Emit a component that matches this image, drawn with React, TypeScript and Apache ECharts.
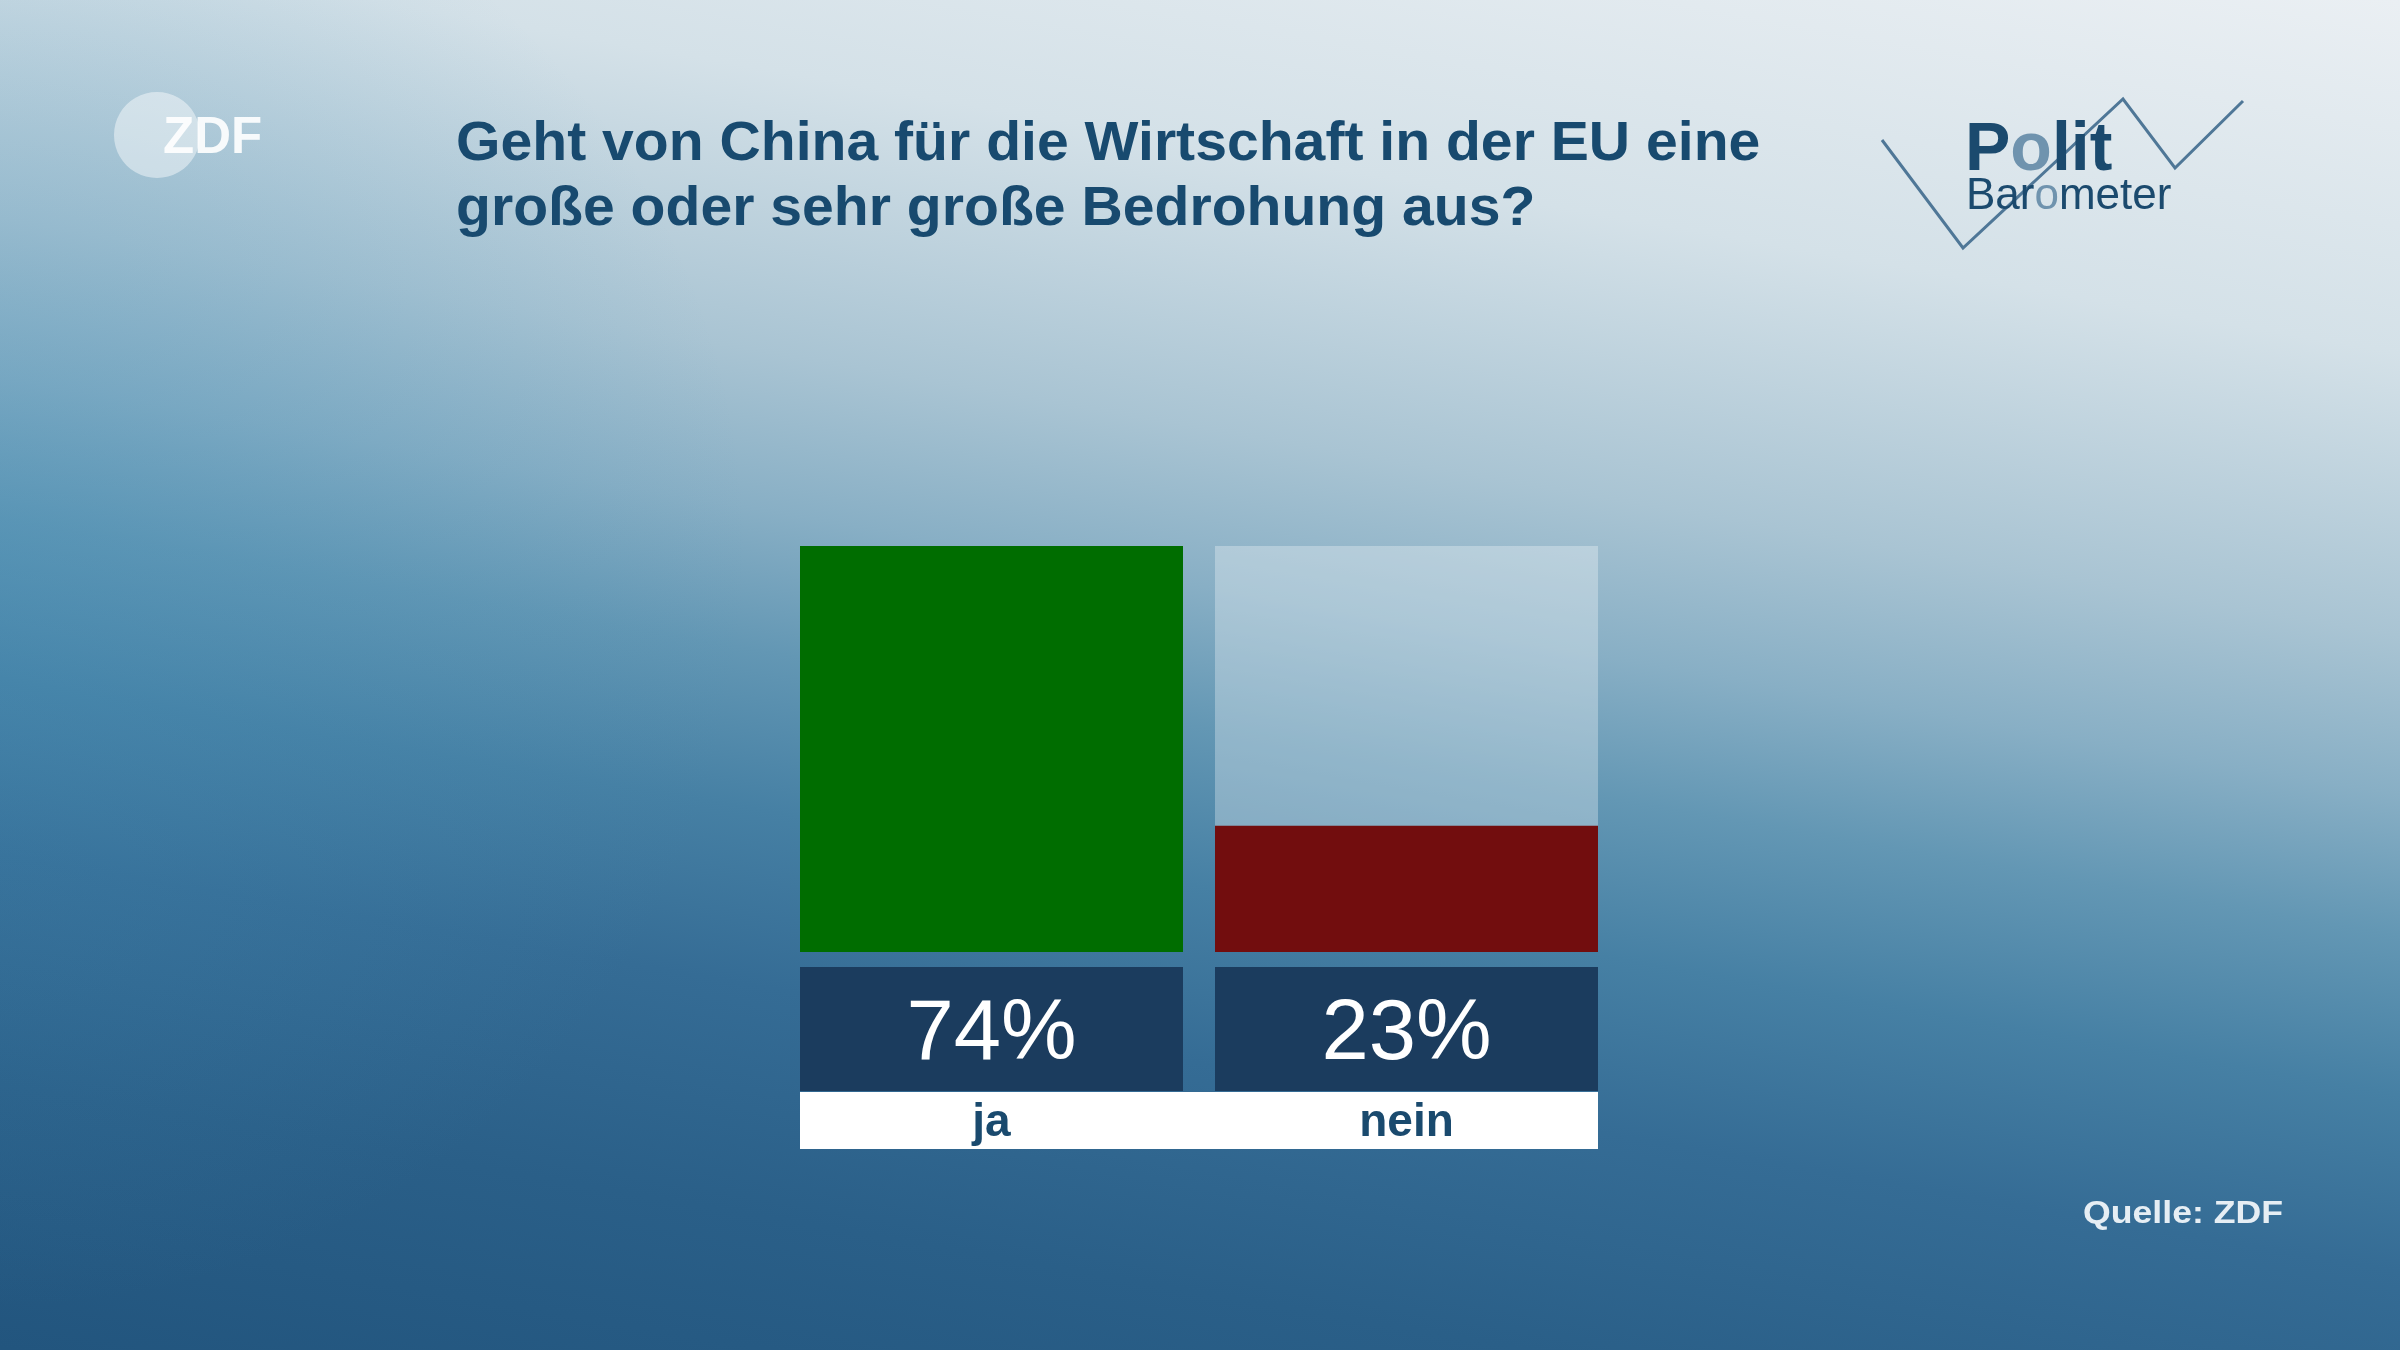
import React, { useEffect, useRef } from 'react';
import * as echarts from 'echarts';

const categories = ['ja', 'nein'];
const values = [74, 23];
const barColors = ['#006d00', '#720d0e'];
const titleLines = [
  'Geht von China für die Wirtschaft in der EU eine',
  'große oder sehr große Bedrohung aus?',
];
const sourceText = 'Quelle: ZDF';

const FONT = '"Liberation Sans", Arial, sans-serif';

function measure(text: string, font: string): number {
  const ctx = document.createElement('canvas').getContext('2d') as CanvasRenderingContext2D;
  ctx.font = font;
  return ctx.measureText(text).width || 1;
}

export default function App() {
  const ref = useRef<HTMLDivElement>(null);

  useEffect(() => {
    const chart = echarts.init(ref.current as HTMLDivElement, null, { renderer: 'svg' });
    const titleScale = 1304 / measure(titleLines[0], `bold 55px ${FONT}`);
    const srcScale = 200 / measure(sourceText, `bold 31px ${FONT}`);

    const bg = {
      type: 'linear',
      x: 2400,
      y: 0,
      x2: 2102,
      y2: 1714,
      global: true,
      colorStops: [
        { offset: 0, color: '#eaeff3' },
        { offset: 0.2, color: '#d4e1e8' },
        { offset: 0.36, color: '#a9c4d3' },
        { offset: 0.45, color: '#88afc5' },
        { offset: 0.53, color: '#6397b4' },
        { offset: 0.62, color: '#4680a4' },
        { offset: 0.72, color: '#356c95' },
        { offset: 0.85, color: '#2a5f88' },
        { offset: 1, color: '#22557e' },
      ],
    };
    const glow = {
      type: 'radial',
      x: 0,
      y: 560,
      r: 750,
      global: true,
      colorStops: [
        { offset: 0, color: 'rgba(70,145,185,0.35)' },
        { offset: 1, color: 'rgba(70,145,185,0)' },
      ],
    };

    const option: any = {
      animation: false,
      grid: {
        left: 784,
        top: 546,
        width: 830,
        height: 406,
        containLabel: false,
        outerBoundsMode: 'none',
      },
      xAxis: {
        type: 'category',
        data: categories,
        axisLine: { show: false },
        axisTick: { show: false },
        splitLine: { show: false },
        axisLabel: {
          interval: 0,
          margin: 15,
          formatter: (value: string, index: number) => `{pct|${values[index]}%}\n{name|${value}}`,
          rich: {
            pct: {
              width: 383,
              height: 124,
              lineHeight: 124,
              backgroundColor: '#1b3c5e',
              color: '#ffffff',
              fontSize: 85,
              fontFamily: FONT,
              align: 'center',
            },
            name: {
              width: 383,
              height: 57,
              lineHeight: 57,
              color: '#1a4a6e',
              fontSize: 46,
              fontWeight: 'bold',
              fontFamily: FONT,
              align: 'center',
            },
          },
        },
      },
      yAxis: {
        type: 'value',
        min: 0,
        max: Math.max(...values),
        show: false,
        splitLine: { show: false },
      },
      series: [
        {
          type: 'bar',
          barWidth: 383,
          data: values.map((v, i) => ({ value: v, itemStyle: { color: barColors[i] } })),
          showBackground: true,
          backgroundStyle: { color: 'rgba(255,255,255,0.3)' },
        },
      ],
      graphic: [
        { type: 'rect', z: -100, silent: true, shape: { x: 0, y: 0, width: 2400, height: 1350 }, style: { fill: bg } },
        { type: 'rect', z: -99, silent: true, shape: { x: 0, y: 0, width: 2400, height: 1350 }, style: { fill: glow } },
        { type: 'rect', z: -1, silent: true, shape: { x: 800, y: 1092, width: 798, height: 57 }, style: { fill: '#ffffff' } },
        // ZDF logo
        { type: 'circle', z: 5, silent: true, shape: { cx: 157, cy: 135, r: 43 }, style: { fill: 'rgba(255,255,255,0.45)' } },
        {
          type: 'text', z: 6, silent: true, x: 163, y: 135,
          style: { text: 'ZDF', fontFamily: FONT, fontWeight: 'bold', fontSize: 51, fill: 'rgba(255,255,255,0.9)', verticalAlign: 'middle', align: 'left' },
        },
        // Title
        {
          type: 'text', z: 6, silent: true, x: 456, y: 141, scaleX: titleScale,
          style: { text: titleLines[0], fontFamily: FONT, fontWeight: 'bold', fontSize: 55, fill: '#184a6f', verticalAlign: 'middle', align: 'left' },
        },
        {
          type: 'text', z: 6, silent: true, x: 456, y: 206, scaleX: titleScale,
          style: { text: titleLines[1], fontFamily: FONT, fontWeight: 'bold', fontSize: 55, fill: '#184a6f', verticalAlign: 'middle', align: 'left' },
        },
        // Politbarometer logo
        {
          type: 'polyline', z: 5, silent: true,
          shape: { points: [[1882, 140], [1963, 248], [2123, 99], [2175, 168], [2243, 101]] },
          style: { stroke: '#4f7797', lineWidth: 3, fill: null },
        },
        {
          type: 'text', z: 6, silent: true, x: 1965, y: 146,
          style: {
            text: '{a|P}{b|o}{a|lit}',
            verticalAlign: 'middle', align: 'left',
            rich: {
              a: { fontFamily: FONT, fontWeight: 'bold', fontSize: 68, lineHeight: 50, fill: '#1b4a6e', color: '#1b4a6e' },
              b: { fontFamily: FONT, fontWeight: 'bold', fontSize: 68, lineHeight: 50, fill: '#6f93ae', color: '#6f93ae' },
            },
          },
        },
        {
          type: 'text', z: 6, silent: true, x: 1966, y: 193,
          style: {
            text: '{a|Bar}{b|o}{a|meter}',
            verticalAlign: 'middle', align: 'left',
            rich: {
              a: { fontFamily: FONT, fontSize: 44, lineHeight: 34, fill: '#1b4a6e', color: '#1b4a6e' },
              b: { fontFamily: FONT, fontSize: 44, lineHeight: 34, fill: '#6f93ae', color: '#6f93ae' },
            },
          },
        },
        // Source
        {
          type: 'text', z: 6, silent: true, x: 2283, y: 1212, scaleX: srcScale,
          style: { text: sourceText, fontFamily: FONT, fontWeight: 'bold', fontSize: 31, fill: '#e6eef4', verticalAlign: 'middle', align: 'right' },
        },
      ],
    };

    chart.setOption(option);
    return () => chart.dispose();
  }, []);

  return (
    <div
      ref={ref}
      style={{ position: 'fixed', left: 0, top: 0, width: 2400, height: 1350 }}
    />
  );
}
